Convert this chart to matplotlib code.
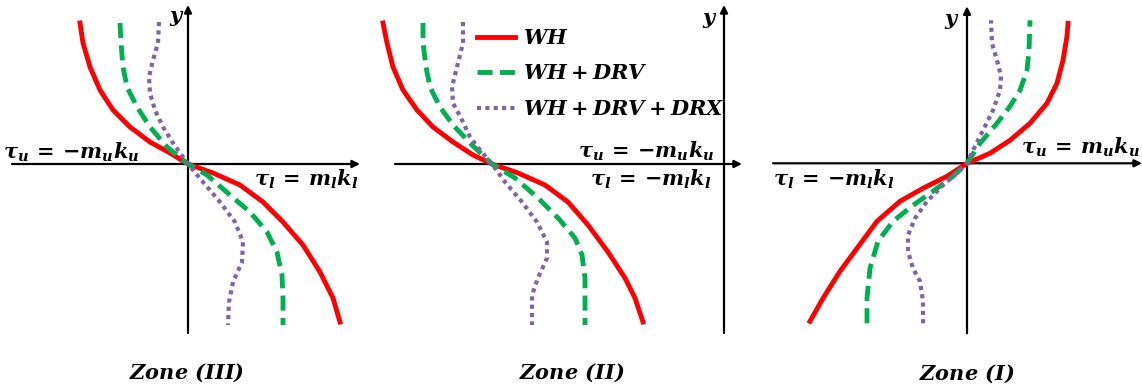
import matplotlib.pyplot as plt
from matplotlib.lines import Line2D

plt.rcParams['mathtext.fontset'] = 'custom'
plt.rcParams['mathtext.rm'] = 'DejaVu Serif:bold'
plt.rcParams['mathtext.it'] = 'DejaVu Serif:italic:bold'
plt.rcParams['mathtext.bf'] = 'DejaVu Serif:bold'
plt.rcParams['mathtext.bfit'] = 'DejaVu Serif:italic:bold'
plt.rcParams['mathtext.default'] = 'bfit'

# curve shapes (x = shear, y = height), one set per zone
# Zone (III)
wh3_x = [-108, -105, -98, -88, -75, -58, -38, -18, 0, 25, 52, 75, 95, 115, 132, 145, 152]
wh3_y = [141, 121, 97, 74, 54, 37, 22, 11, 0, -9, -21, -38, -58, -81, -108, -134, -158]
drv3_x = [-68, -67, -65, -61, -51, -38, -21, 0, 19, 42, 62, 79, 89, 94, 95, 95]
drv3_y = [141, 121, 97, 77, 57, 37, 17, 0, -11, -31, -48, -68, -88, -111, -134, -161]
drx3_x = [-29, -30, -35, -39, -38, -33, -25, -15, 0, 15, 32, 47, 55, 54, 45, 41, 40]
drx3_y = [142, 121, 104, 87, 71, 54, 37, 21, 0, -18, -38, -58, -78, -98, -118, -138, -161]

# Zone (II)
wh2_x = [-341, -337, -331, -321, -307, -291, -271, -251, -232, -206, -179, -156, -136, -116, -99, -89, -81]
wh2_y = [141, 121, 97, 74, 54, 37, 22, 9, 0, -9, -21, -38, -61, -88, -114, -134, -158]
drv2_x = [-301, -301, -298, -294, -284, -271, -254, -232, -209, -186, -166, -149, -142, -139, -139, -139]
drv2_y = [141, 121, 97, 77, 57, 39, 21, 0, -14, -34, -54, -74, -91, -114, -138, -161]
drx2_x = [-261, -261, -267, -272, -271, -262, -254, -244, -232, -219, -202, -187, -177, -177, -186, -192, -192]
drx2_y = [142, 121, 97, 77, 61, 44, 27, 14, 0, -18, -38, -58, -78, -94, -114, -131, -161]

# Zone (I)
wh1_x = [-157, -144, -127, -110, -90, -67, -44, -20, 0, 23, 43, 63, 80, 90, 96, 100, 101]
wh1_y = [-158, -135, -108, -85, -58, -38, -25, -13, 0, 10, 23, 40, 60, 80, 103, 127, 140]
drv1_x = [-100, -100, -97, -89, -74, -54, -34, -14, 0, 13, 30, 43, 53, 60, 62, 63]
drv1_y = [-160, -135, -105, -78, -58, -42, -28, -13, 0, 20, 40, 57, 73, 93, 113, 143]
drx1_x = [-44, -44, -47, -54, -59, -59, -52, -40, -24, -7, 0, 6, 16, 26, 33, 34, 30, 25, 24]
drx1_y = [-160, -138, -118, -105, -88, -72, -55, -38, -22, -7, 0, 13, 33, 53, 73, 87, 103, 120, 143]

labels = [r'$WH$', r'$WH+DRV$', r'$WH+DRV+DRX$']
red = '#ff0000'
green = '#00b050'
purple = '#8064a2'

fs = 15
W, H = 1142, 392
fig = plt.figure(figsize=(W / 100, H / 100), dpi=100)


def panel(left, width, xlim, ylim, xaxis, yaxis, series):
    ax = fig.add_axes([left / W, 0, width / W, 1])
    ax.set_xlim(*xlim)
    ax.set_ylim(*ylim)
    ax.axis('off')
    arr = dict(arrowstyle='-|>', lw=1.6, color='black', mutation_scale=11,
               shrinkA=0, shrinkB=0)
    ax.annotate('', xy=(xaxis[1], 0), xytext=(xaxis[0], 0), arrowprops=arr, zorder=1)
    ax.annotate('', xy=(0, yaxis[1]), xytext=(0, yaxis[0]), arrowprops=arr, zorder=1)
    (x1, y1), (x2, y2), (x3, y3) = series
    ax.plot(x1, y1, color=red, lw=3.5, solid_joinstyle='round', zorder=3)
    ax.plot(x2, y2, color=green, lw=3.5, dashes=(3.1, 1.5), zorder=3)
    ax.plot(x3, y3, color=purple, lw=3.0, dashes=(1, 1), dash_capstyle='butt', zorder=3)
    return ax


ax1 = panel(0, 380, (-188, 192), (-228, 164), (-176, 172), (-169, 159),
            [(wh3_x, wh3_y), (drv3_x, drv3_y), (drx3_x, drx3_y)])
ax1.text(-11, 146, r'$y$', fontsize=fs, ha='center', va='center')
ax1.text(-48, 5, r'$\tau_u\,=\,{-}m_uk_u$', fontsize=fs, ha='right', va='baseline')
ax1.text(170, -22, r'$\tau_l\,=\,m_lk_l$', fontsize=fs, ha='right', va='baseline')
ax1.text(-1, -209, r'$Zone\ (III)$', fontsize=fs, ha='center', va='center')

ax2 = panel(380, 380, (-344, 36), (-228, 164), (-329, 18), (-169, 159),
            [(wh2_x, wh2_y), (drv2_x, drv2_y), (drx2_x, drx2_y)])
ax2.text(-14, 144, r'$y$', fontsize=fs, ha='center', va='center')
ax2.text(-9, 6, r'$\tau_u\,=\,{-}m_uk_u$', fontsize=fs, ha='right', va='baseline')
ax2.text(-12, -22, r'$\tau_l\,=\,{-}m_lk_l$', fontsize=fs, ha='right', va='baseline')
ax2.text(-152, -209, r'$Zone\ (II)$', fontsize=fs, ha='center', va='center')
handles = [Line2D([], [], color=red, lw=3.5),
           Line2D([], [], color=green, lw=3.5, dashes=(3.1, 1.5)),
           Line2D([], [], color=purple, lw=3.0, dashes=(1, 1), dash_capstyle='butt')]
ax2.legend(handles, labels, loc='upper left', bbox_to_anchor=(97 / 380, 1 - 28 / H),
           frameon=False, fontsize=fs, handlelength=1.8, handletextpad=0.4,
           borderaxespad=0, borderpad=0, labelspacing=0.74)

ax3 = panel(760, 382, (-207, 175), (-228.7, 163.3), (-194, 175), (-170, 157),
            [(wh1_x, wh1_y), (drv1_x, drv1_y), (drx1_x, drx1_y)])
ax3.text(-15, 142, r'$y$', fontsize=fs, ha='center', va='center')
ax3.text(173, 10, r'$\tau_u\,=\,m_uk_u$', fontsize=fs, ha='right', va='baseline')
ax3.text(-194, -22, r'$\tau_l\,=\,{-}m_lk_l$', fontsize=fs, ha='left', va='baseline')
ax3.text(0, -210, r'$Zone\ (I)$', fontsize=fs, ha='center', va='center')

fig.savefig('out.png', dpi=100)
